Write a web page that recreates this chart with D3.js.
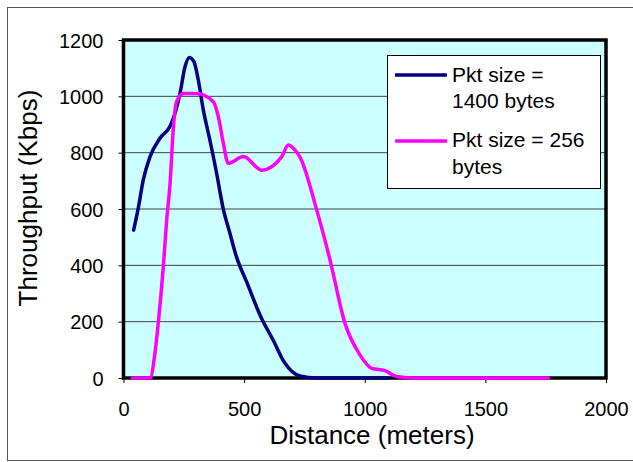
<!DOCTYPE html>
<html>
<head>
<meta charset="utf-8">
<script src="https://cdn.jsdelivr.net/npm/d3@7"></script>
<style>
  body { margin: 0; background: #fff; }
  svg { display: block; font-family: Arial, "Liberation Sans", sans-serif; }
</style>
</head>
<body>
<svg id="chart" width="633" height="462"></svg>
<script>
// ---- data ----
const xTicks = [0, 500, 1000, 1500, 2000];
const yTicks = [0, 200, 400, 600, 800, 1000, 1200];

const seriesNames = ["Pkt size = 1400 bytes", "Pkt size = 256 bytes"];
const legendLines = [["Pkt size =", "1400 bytes"], ["Pkt size = 256", "bytes"]];
const seriesColors = ["#000080", "#FF00FF"];

const dist1400 = [42, 61, 82, 110, 151, 193, 209, 234, 255, 273, 292, 310, 331, 358, 386, 413, 441, 468, 510, 572, 620, 668, 731, 800, 900, 1000, 1100];
const thr1400  = [525, 602, 703, 786, 851, 894, 928, 1010, 1105, 1138, 1123, 1058, 951, 845, 727, 602, 514, 431, 342, 212, 135, 54, 7, 0, 0, 0, 0];

const dist256 = [36, 110, 131, 144, 165, 179, 193, 206, 220, 248, 303, 372, 393, 414, 434, 497, 573, 656, 683, 711, 731, 801, 856, 918, 980, 1029, 1084, 1132, 1200, 1400, 1600, 1761];
const thr256  = [0, 0, 93, 194, 395, 561, 691, 880, 981, 1010, 1010, 981, 928, 833, 762, 786, 738, 786, 827, 809, 785, 596, 419, 194, 82, 34, 26, 5, 0, 0, 0, 0];

// ---- layout ----
const svg = d3.select("#chart");
const L = 123.5, R = 606, T = 40, B = 378;

const x = d3.scaleLinear().domain([0, 2000]).range([L, R]);
const y = d3.scaleLinear().domain([0, 1200]).range([B, T]);

// outer chart border
svg.append("rect")
  .attr("x", 7.5).attr("y", 7.5).attr("width", 640).attr("height", 453)
  .attr("fill", "#fff").attr("stroke", "#555").attr("stroke-width", 1);

// plot background
svg.append("rect")
  .attr("x", L).attr("y", T).attr("width", R - L).attr("height", B - T)
  .attr("fill", "#CCFFFF");

// gridlines
svg.append("g").selectAll("line")
  .data(yTicks.filter(d => d > 0 && d < 1200))
  .join("line")
  .attr("x1", L).attr("x2", R)
  .attr("y1", d => y(d)).attr("y2", d => y(d))
  .attr("stroke", "#444").attr("stroke-width", 1);

// plot border (thick black)
svg.append("rect")
  .attr("x", L).attr("y", T).attr("width", R - L).attr("height", B - T)
  .attr("fill", "none").attr("stroke", "#000").attr("stroke-width", 3.5);

// axes
const xAxis = d3.axisBottom(x).tickValues(xTicks).tickSize(5).tickFormat(d3.format("d"));
const gx = svg.append("g").attr("transform", `translate(0,${B})`).call(xAxis);
gx.select(".domain").remove();
gx.selectAll(".tick line").attr("stroke", "#000").attr("y1", 1);
gx.selectAll(".tick text")
  .attr("y", 0).attr("dy", 0)
  .attr("transform", "translate(0,38)")
  .attr("font-size", 20).attr("fill", "#000")
  .attr("font-family", "Arial, 'Liberation Sans', sans-serif");

const yAxis = d3.axisLeft(y).tickValues(yTicks).tickSize(5).tickFormat(d3.format("d"));
const gy = svg.append("g").attr("transform", `translate(${L},0)`).call(yAxis);
gy.select(".domain").remove();
gy.selectAll(".tick line").attr("stroke", "#000");
gy.selectAll(".tick text")
  .attr("x", -20).attr("dy", 0)
  .attr("transform", "translate(0,7)")
  .attr("font-size", 20).attr("fill", "#000")
  .attr("font-family", "Arial, 'Liberation Sans', sans-serif");

// series (drawn on top of the axis frame)
const series = [
  { xs: dist1400, ys: thr1400, color: seriesColors[0] },
  { xs: dist256, ys: thr256, color: seriesColors[1] }
];
const line = d3.line()
  .x(d => x(d[0])).y(d => y(d[1]))
  .curve(d3.curveMonotoneX);

series.forEach(s => {
  svg.append("path")
    .datum(s.xs.map((v, i) => [v, s.ys[i]]))
    .attr("d", line)
    .attr("fill", "none")
    .attr("stroke", s.color)
    .attr("stroke-width", 3.5)
    .attr("stroke-linejoin", "round")
    .attr("stroke-linecap", "round");
});

// axis titles
svg.append("text")
  .attr("x", 372).attr("y", 444)
  .attr("text-anchor", "middle")
  .attr("font-size", 26)
  .text("Distance (meters)");

svg.append("text")
  .attr("transform", "translate(37,198) rotate(-90)")
  .attr("text-anchor", "middle")
  .attr("font-size", 26)
  .text("Throughput (Kbps)");

// legend
const lg = svg.append("g");
lg.append("rect")
  .attr("x", 387.5).attr("y", 55.5).attr("width", 213).attr("height", 133)
  .attr("fill", "#fff").attr("stroke", "#000").attr("stroke-width", 1);

const legendRows = [
  { lineY: 75, textY: [82, 108] },
  { lineY: 141, textY: [147, 174] }
];
legendRows.forEach((r, i) => {
  lg.append("line")
    .attr("x1", 395).attr("x2", 447)
    .attr("y1", r.lineY).attr("y2", r.lineY)
    .attr("stroke", seriesColors[i]).attr("stroke-width", 3.5);
  legendLines[i].forEach((t, j) => {
    lg.append("text")
      .attr("x", 452).attr("y", r.textY[j])
      .attr("font-size", 21)
      .text(t);
  });
});
</script>
</body>
</html>
